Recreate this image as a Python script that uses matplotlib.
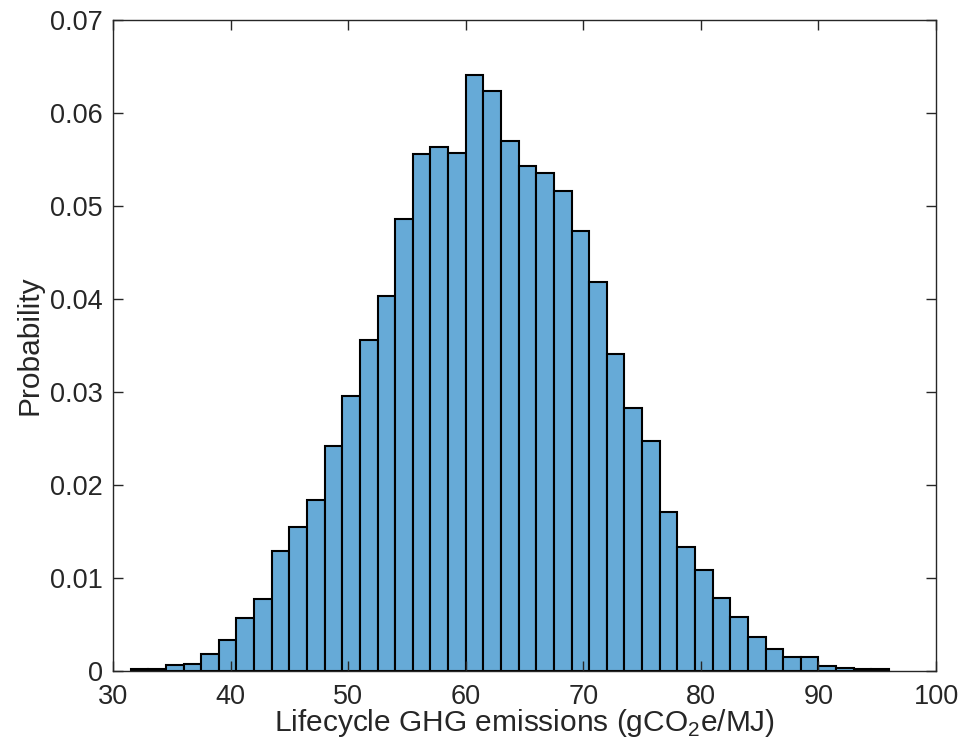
import matplotlib
matplotlib.use("Agg")
import matplotlib.pyplot as plt
import numpy as np

plt.rcParams['font.family'] = ['Liberation Sans', 'DejaVu Sans']
plt.rcParams['mathtext.fontset'] = 'custom'
plt.rcParams['mathtext.rm'] = 'Liberation Sans'

# histogram bins (gCO2e/MJ) and normalized probabilities
bin_edges = [31.5, 33.0, 34.5, 36.0, 37.5, 39.0, 40.5, 42.0, 43.5, 45.0,
             46.5, 48.0, 49.5, 51.0, 52.5, 54.0, 55.5, 57.0, 58.5, 60.0,
             61.5, 63.0, 64.5, 66.0, 67.5, 69.0, 70.5, 72.0, 73.5, 75.0,
             76.5, 78.0, 79.5, 81.0, 82.5, 84.0, 85.5, 87.0, 88.5, 90.0,
             91.5, 93.0, 94.5, 96.0]
probability = [0.0002, 0.0002, 0.0007, 0.0008, 0.0018, 0.0033, 0.0057, 0.0077,
               0.0129, 0.0155, 0.0184, 0.0242, 0.0296, 0.0356, 0.0403, 0.0486,
               0.0556, 0.0563, 0.0557, 0.0641, 0.0624, 0.0570, 0.0543, 0.0536,
               0.0516, 0.0473, 0.0418, 0.0341, 0.0283, 0.0247, 0.0171, 0.0133,
               0.0109, 0.0078, 0.0058, 0.0037, 0.0024, 0.0015, 0.0015, 0.0005,
               0.0003, 0.0002, 0.0002]

edges = np.array(bin_edges)
widths = np.diff(edges)

fig = plt.figure(figsize=(9.64, 7.51), dpi=100)
ax = fig.add_axes([0.1172, 0.1065, 0.8538, 0.8669])

ax.bar(edges[:-1], probability, width=widths, align='edge',
       color='#66aad7', edgecolor='black', linewidth=1.5, zorder=1)

ax.set_xlim(30, 100)
ax.set_ylim(0, 0.07)
ax.set_xticks([30, 40, 50, 60, 70, 80, 90, 100])
ax.set_yticks([0, 0.01, 0.02, 0.03, 0.04, 0.05, 0.06, 0.07])
ax.set_yticklabels(['0', '0.01', '0.02', '0.03', '0.04', '0.05', '0.06', '0.07'])

gray = '#262626'
for s in ax.spines.values():
    s.set_color(gray)
    s.set_linewidth(1.0)
    s.set_zorder(3)
ax.tick_params(direction='in', length=7, width=1.0, colors=gray,
               labelsize=19.5, top=True, right=True)
ax.tick_params(axis='y', pad=7.5)
ax.tick_params(axis='x', pad=9)

ax.set_xlabel(r'Lifecycle GHG emissions (gCO$_\mathregular{2}$e/MJ)',
              fontsize=21.5, color=gray)
ax.set_ylabel('Probability', fontsize=21.5, color=gray)
ax.xaxis.set_label_coords(0.5, -0.0922)
ax.xaxis.label.set_va('baseline')
ax.yaxis.set_label_coords(-0.0923, 0.5)
ax.yaxis.label.set_va('baseline')

fig.savefig('out.png', dpi=100)
